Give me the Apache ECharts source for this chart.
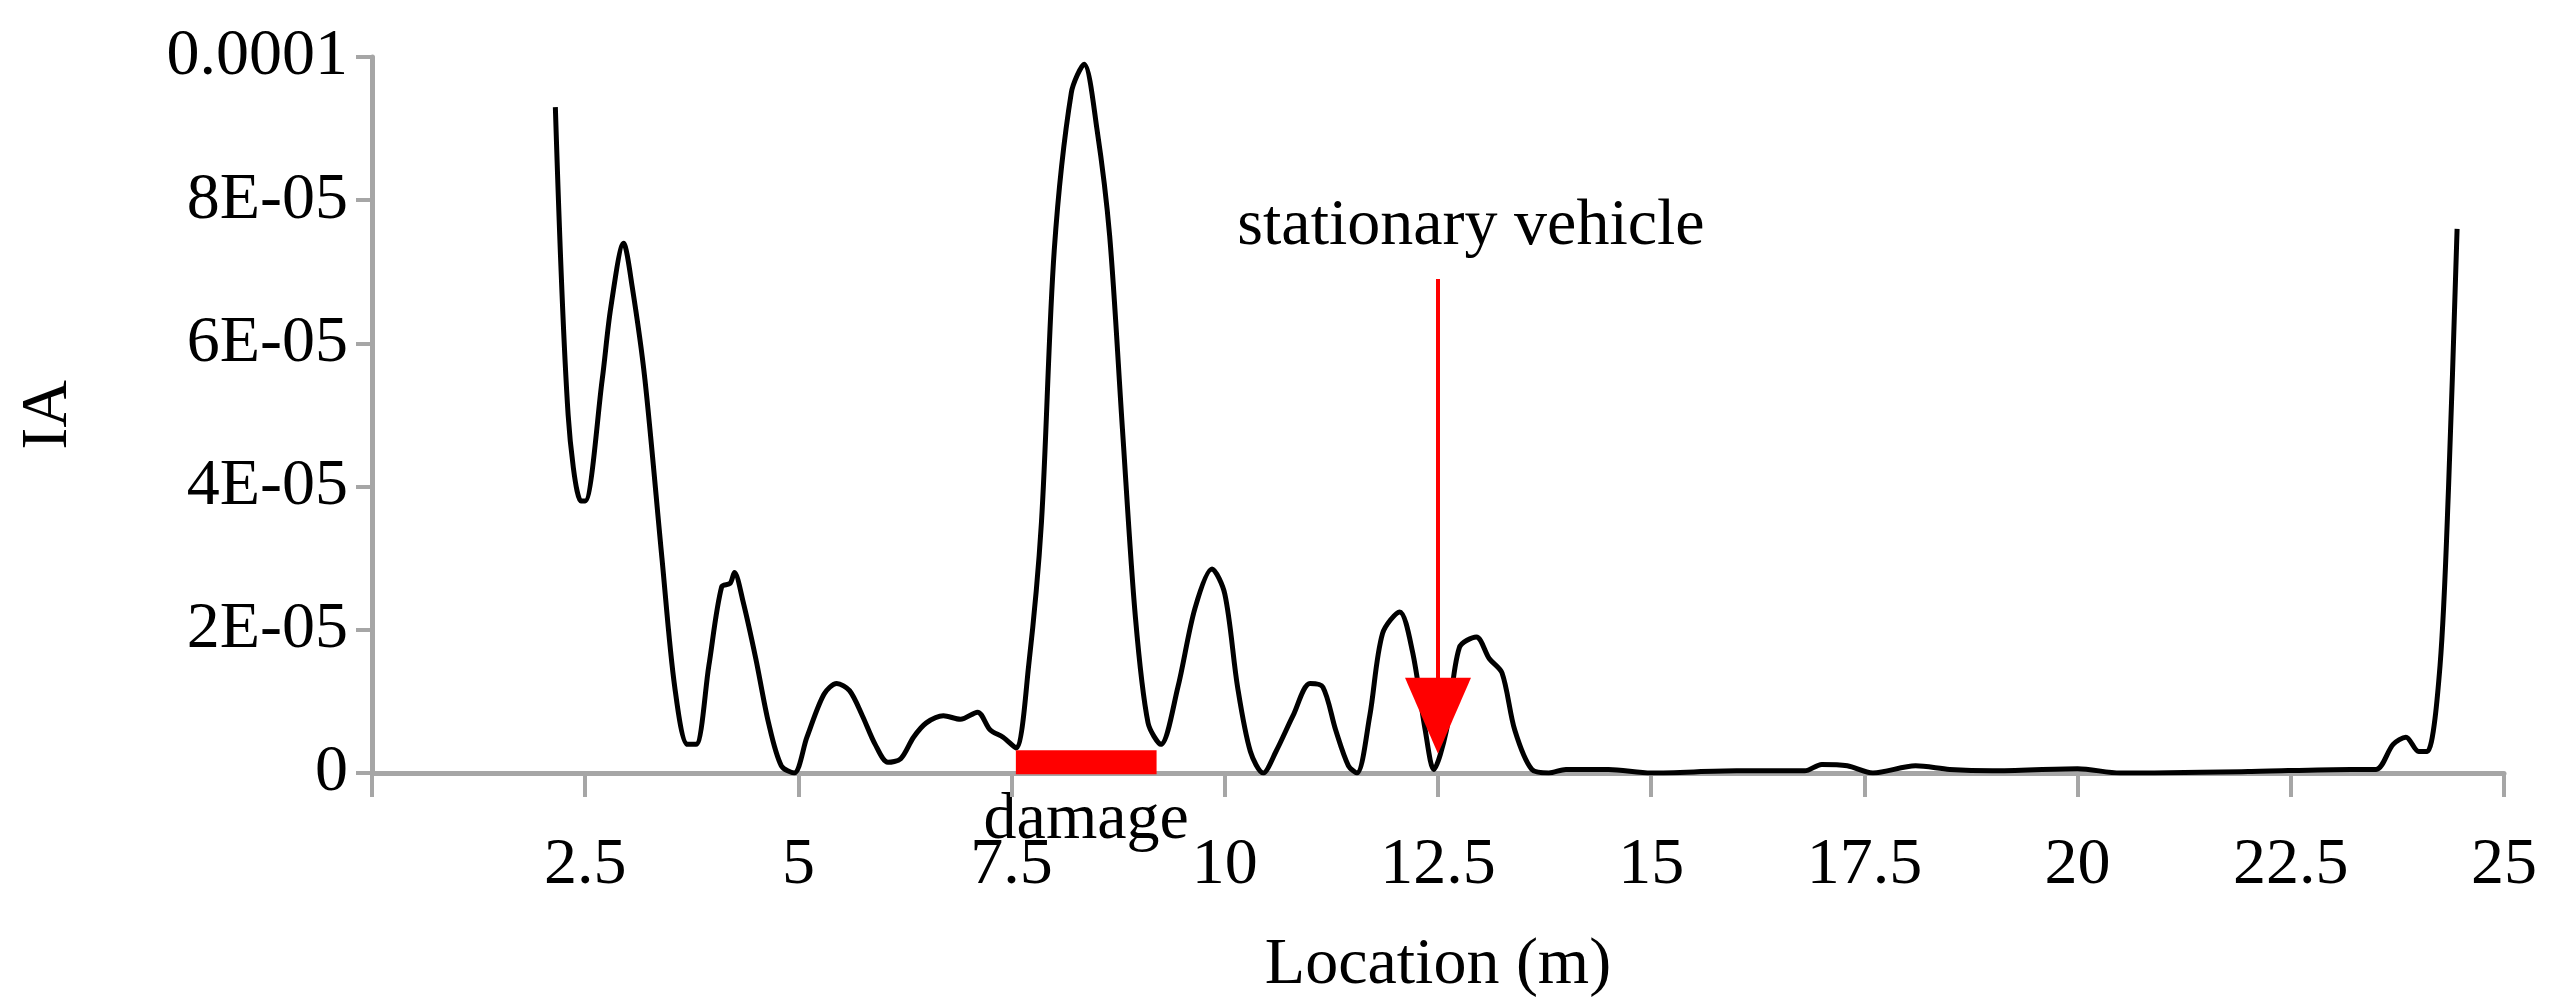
<!DOCTYPE html>
<html>
<head>
<meta charset="utf-8">
<script src="https://cdn.jsdelivr.net/npm/echarts@6/dist/echarts.min.js"></script>
<style>html,body{margin:0;padding:0;background:#fff}#main{width:2558px;height:1004px}</style>
</head>
<body>
<div id="main"></div>
<script>
// location (m) and IA (x 1e-5)
var loc = [2.15,2.3,2.45,2.5,2.7,2.8,2.95,3.05,3.2,3.4,3.55,3.7,3.8,3.95,4.1,4.2,4.25,4.35,4.5,4.65,4.8,4.95,5.1,5.3,5.45,5.6,5.75,5.9,6.05,6.2,6.35,6.5,6.7,6.9,7.1,7.25,7.4,7.55,7.7,7.85,8.0,8.2,8.35,8.5,8.65,8.8,8.95,9.1,9.25,9.45,9.65,9.85,10.0,10.15,10.3,10.45,10.6,10.8,11.0,11.15,11.3,11.45,11.55,11.7,11.85,12.05,12.2,12.35,12.45,12.6,12.75,12.95,13.1,13.25,13.4,13.6,13.8,14.0,14.5,15,16,16.8,17.0,17.3,17.6,18.1,18.5,19.0,20.0,20.5,22,23.2,23.5,23.7,23.85,24.0,24.1,24.25,24.35,24.45];
var ia = [9.3,5,3.8,3.8,5.5,6.5,7.4,6.8,5.5,3,1.2,0.4,0.4,1.5,2.6,2.65,2.8,2.4,1.6,0.7,0.1,0,0.5,1.1,1.25,1.15,0.8,0.4,0.15,0.2,0.5,0.7,0.8,0.75,0.85,0.6,0.5,0.35,1.5,3.5,7.3,9.5,9.9,9.0,7.5,4.8,2.2,0.7,0.4,1.2,2.3,2.85,2.5,1.2,0.3,0,0.3,0.8,1.25,1.2,0.6,0.1,0,0.8,1.95,2.25,1.7,0.6,0.05,0.6,1.75,1.9,1.6,1.4,0.6,0.05,0,0.05,0.05,0,0.03,0.03,0.12,0.1,0,0.1,0.05,0.03,0.06,0,0.02,0.05,0.05,0.4,0.5,0.3,0.3,1.5,4,7.6];
var damageX = [7.55, 9.2], damageY = 0.15e-5;
var arrowX = 12.5, arrowTop = 6.9e-5, arrowTip = 0.05e-5;
var yTicks = ['0','2E-05','4E-05','6E-05','8E-05','0.0001'];

var FONT = 'Liberation Serif';
var grey = '#a6a6a6';
var chart = echarts.init(document.getElementById('main'));
var opt = {
	animation: false,
	textStyle: { fontFamily: FONT },
	grid: { left: 372, right: 54, top: 57, bottom: 229 },
	xAxis: { type: 'value', min: 0, max: 25, interval: 2.5,
		name: 'Location (m)', nameLocation: 'middle', nameGap: 160,
		nameTextStyle: { fontSize: 66, color: '#000', fontFamily: FONT },
		axisLine: { lineStyle: { color: grey, width: 5 } },
		axisTick: { show: true, length: 24, lineStyle: { color: grey, width: 4 } },
		axisLabel: { fontSize: 66, color: '#000', margin: 60, fontFamily: FONT,
			formatter: function(v){ return v === 0 ? '' : String(v); } },
		splitLine: { show: false } },
	yAxis: { type: 'value', min: 0, max: 1e-4, interval: 2e-5,
		name: 'IA', nameLocation: 'middle', nameGap: 290,
		nameTextStyle: { fontSize: 66, color: '#000', fontFamily: FONT },
		axisLine: { show: true, lineStyle: { color: grey, width: 5 } },
		axisTick: { show: true, length: 16, lineStyle: { color: grey, width: 4 } },
		axisLabel: { fontSize: 66, color: '#000', margin: 24, fontFamily: FONT,
			formatter: function(v){ return yTicks[Math.round(v / 2e-5)]; } },
		splitLine: { show: false } },
	series: [
		{ type: 'line', showSymbol: false, symbol: 'none', z: 3, smooth: 0.3,
			lineStyle: { color: '#000', width: 5 },
			data: loc.map(function(x, i){ return [x, ia[i] * 1e-5]; }) },
		{ type: 'line', symbol: 'none', z: 4, lineStyle: { color: '#ff0000', width: 24, cap: 'butt' },
			data: [[damageX[0], damageY], [damageX[1], damageY]] },
		{ type: 'line', symbol: 'none', z: 5, data: [],
			markLine: { silent: true, symbol: ['none', 'triangle'], symbolSize: [66, 76],
				label: { show: false },
				lineStyle: { color: '#ff0000', width: 4, type: 'solid' },
				data: [[{ coord: [arrowX, arrowTop] }, { coord: [arrowX, arrowTip + 0.75e-5] }]] } }
	]
};
chart.setOption(opt);
var pd = chart.convertToPixel({ gridIndex: 0 }, [(damageX[0] + damageX[1]) / 2, 0]);
var pa = chart.convertToPixel({ gridIndex: 0 }, [arrowX, arrowTop]);
chart.setOption({ graphic: [
	{ type: 'text', x: pd[0], y: pd[1] + 48, style: { text: 'damage', font: '66px "Liberation Serif"', fill: '#000', align: 'center', verticalAlign: 'middle' } },
	{ type: 'text', x: pa[0] + 33, y: pa[1] - 52, style: { text: 'stationary vehicle', font: '66px "Liberation Serif"', fill: '#000', align: 'center', verticalAlign: 'middle' } }
] });
</script>
</body>
</html>
